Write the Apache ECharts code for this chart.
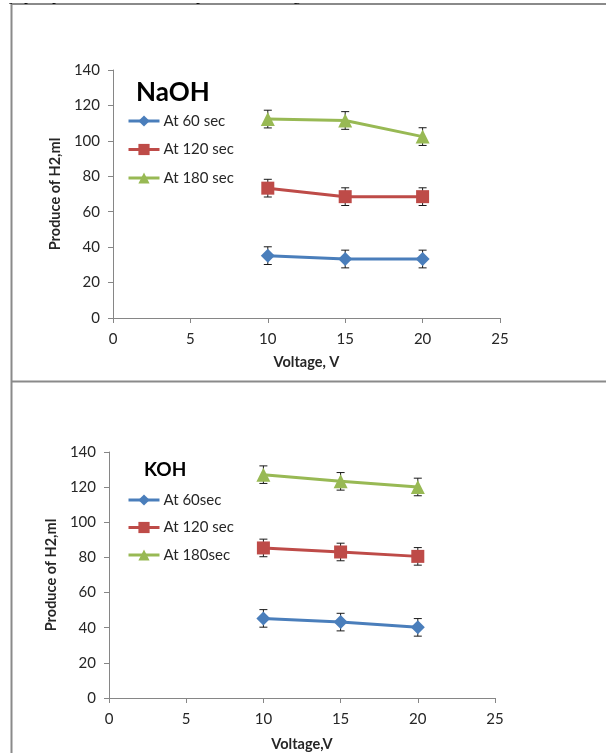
<!DOCTYPE html>
<html><head><meta charset="utf-8">
<script src="https://cdn.jsdelivr.net/npm/echarts@6/dist/echarts.min.js"></script>
<style>html,body{margin:0;padding:0;background:#fff}#c{width:606px;height:753px}</style>
</head><body><div id="c"></div>
<script>
// ---- data ----
const voltages = [10, 15, 20];
const xTicks = [0, 5, 10, 15, 20, 25];
const yTicks = [0, 20, 40, 60, 80, 100, 120, 140];
const naohNames = ['At 60 sec', 'At 120 sec', 'At 180 sec'];
const naoh60 = [35.2, 33.3, 33.3];
const naoh120 = [73.3, 68.5, 68.5];
const naoh180 = [112.3, 111.5, 102.4];
const naohErr = [5, 5, 5];
const kohNames = ['At 60sec', 'At 120 sec ', 'At 180sec'];
const koh60 = [45.3, 43.2, 40.2];
const koh120 = [85.4, 83.1, 80.6];
const koh180 = [127.1, 123.3, 120.1];
const kohErr = [5, 5, 5];

// ---- styles ----
const FONT = 'Lato';
const colors = ['#4a7ebb', '#be4b48', '#98b954'];
const symbols = ['diamond', 'rect', 'triangle'];
const symSizes = [14, 13, 14];
const axisColor = '#868686';
const textColor = '#262626';

function xAxisDef(gi, name, gap) {
  return {
    type: 'value', gridIndex: gi, min: xTicks[0], max: xTicks[xTicks.length - 1], interval: 5,
    name: name, nameLocation: 'middle', nameGap: gap,
    nameTextStyle: { fontFamily: FONT, fontWeight: 'bold', fontSize: 14.5, color: textColor },
    axisLine: { show: true, onZero: false, lineStyle: { color: axisColor, width: 1 } },
    axisTick: { show: true, length: 5, lineStyle: { color: axisColor } },
    axisLabel: { fontFamily: FONT, fontSize: 15, color: textColor, margin: 14 },
    splitLine: { show: false }
  };
}
function yAxisDef(gi, gap) {
  return {
    type: 'value', gridIndex: gi, min: yTicks[0], max: yTicks[yTicks.length - 1], interval: 20,
    name: 'Produce of H2,ml', nameLocation: 'middle', nameGap: gap, nameRotate: 90,
    nameTextStyle: { fontFamily: FONT, fontWeight: 'bold', fontSize: 14.5, color: textColor },
    axisLine: { show: true, lineStyle: { color: axisColor, width: 1 } },
    axisTick: { show: true, length: 5, lineStyle: { color: axisColor } },
    axisLabel: { fontFamily: FONT, fontSize: 15, color: textColor, margin: 13 },
    splitLine: { show: false }
  };
}
function lineSeries(name, vals, idx, gi) {
  return {
    type: 'line', name: name, xAxisIndex: gi, yAxisIndex: gi,
    data: voltages.map((v, i) => [v, vals[i]]),
    symbol: symbols[idx], symbolSize: symSizes[idx],
    itemStyle: { color: colors[idx] },
    lineStyle: { color: colors[idx], width: 3 },
    z: 3, animation: false
  };
}
function errSeries(vals, errs, gi) {
  return {
    type: 'custom', xAxisIndex: gi, yAxisIndex: gi, z: 2, animation: false, silent: true,
    data: voltages.map((v, i) => [v, vals[i], errs[i]]),
    renderItem: function (params, api) {
      const x = api.value(0), y = api.value(1), e = api.value(2);
      const top = api.coord([x, y + e]);
      const bot = api.coord([x, y - e]);
      const hw = 4;
      const st = { stroke: '#1a1a1a', lineWidth: 1 };
      return { type: 'group', children: [
        { type: 'line', shape: { x1: top[0], y1: top[1], x2: bot[0], y2: bot[1] }, style: st },
        { type: 'line', shape: { x1: top[0] - hw, y1: top[1], x2: top[0] + hw, y2: top[1] }, style: st },
        { type: 'line', shape: { x1: bot[0] - hw, y1: bot[1], x2: bot[0] + hw, y2: bot[1] }, style: st }
      ] };
    }
  };
}
function legendDef(names, left, top, gap) {
  return {
    data: names, orient: 'vertical', left: left, top: top, itemGap: gap, padding: 0,
    itemWidth: 31, itemHeight: 14, selectedMode: false,
    lineStyle: { width: 3 },
    textStyle: { fontFamily: FONT, fontSize: 15, lineHeight: 16, color: textColor, padding: [0, 0, 0, -1] }
  };
}

const chart = echarts.init(document.getElementById('c'), null, { renderer: 'canvas' });
const borderStyle = { stroke: '#8a8a8a', lineWidth: 2 };
const fragStyle = { fontFamily: 'Liberation Serif', fontSize: 16, fill: '#000', verticalAlign: 'bottom' };
chart.setOption({
  backgroundColor: '#ffffff',
  animation: false,
  title: [
    { text: 'NaOH', left: 136, top: 80, padding: 0, textStyle: { fontFamily: FONT, fontWeight: 'bold', fontSize: 26, color: '#000' } },
    { text: 'KOH', left: 144, top: 460, padding: 0, textStyle: { fontFamily: FONT, fontWeight: 'bold', fontSize: 19, color: '#000' } }
  ],
  legend: [
    legendDef(naohNames, 127, 113, 12.5),
    legendDef(kohNames, 127, 492, 11.5)
  ],
  grid: [
    { left: 113, width: 387, top: 70, height: 248 },
    { left: 109, width: 386, top: 452, height: 246 }
  ],
  xAxis: [xAxisDef(0, 'Voltage, V', 37), xAxisDef(1, 'Voltage,V', 39)],
  yAxis: [yAxisDef(0, 47), yAxisDef(1, 48)],
  series: [
    errSeries(naoh60, naohErr, 0), errSeries(naoh120, naohErr, 0), errSeries(naoh180, naohErr, 0),
    lineSeries(naohNames[0], naoh60, 0, 0), lineSeries(naohNames[1], naoh120, 1, 0), lineSeries(naohNames[2], naoh180, 2, 0),
    errSeries(koh60, kohErr, 1), errSeries(koh120, kohErr, 1), errSeries(koh180, kohErr, 1),
    lineSeries(kohNames[0], koh60, 0, 1), lineSeries(kohNames[1], koh120, 1, 1), lineSeries(kohNames[2], koh180, 2, 1)
  ],
  graphic: [
    { type: 'line', shape: { x1: 11.5, y1: 4, x2: 11.5, y2: 753 }, style: borderStyle, silent: true },
    { type: 'line', shape: { x1: 11, y1: 4, x2: 606, y2: 4 }, style: borderStyle, silent: true },
    { type: 'line', shape: { x1: 11, y1: 381.5, x2: 606, y2: 381.5 }, style: borderStyle, silent: true },
    { type: 'text', x: 9, y: 4, style: Object.assign({ text: 'y' }, fragStyle), silent: true },
    { type: 'text', x: 24, y: 4, style: Object.assign({ text: 'p' }, fragStyle), silent: true },
    { type: 'text', x: 52, y: 4, style: Object.assign({ text: 'p' }, fragStyle), silent: true },
    { type: 'text', x: 196, y: 4, style: Object.assign({ text: 'p' }, fragStyle), silent: true },
    { type: 'text', x: 293, y: 4, style: Object.assign({ text: 'g' }, fragStyle), silent: true },
    { type: 'rect', shape: { x: 0, y: 0, width: 606, height: 3 }, style: { fill: '#fff' }, silent: true, z: 10 }
  ]
});
</script></body></html>
